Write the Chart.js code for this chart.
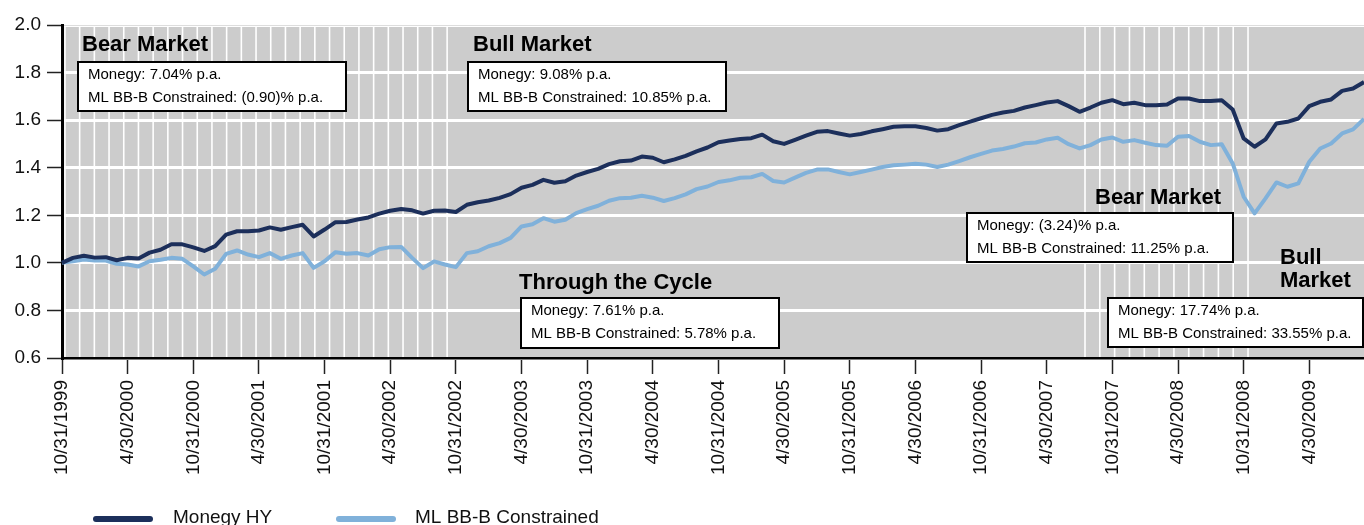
<!DOCTYPE html>
<html>
<head>
<meta charset="utf-8">
<script src="https://cdn.jsdelivr.net/npm/chart.js"></script>
<style>
body { margin: 0; background: #fff; }
#wrap { width: 1364px; height: 525px; }
</style>
</head>
<body>
<div id="wrap"><canvas id="myChart" width="1364" height="525"></canvas></div>
<script>
// growth of 1.0, month ends 10/31/1999 .. 9/30/2009
var monegyHY = [
  1.00, 1.021, 1.03, 1.022, 1.024, 1.011, 1.021, 1.018, 1.043, 1.055,
  1.078, 1.078, 1.065, 1.05, 1.07, 1.119, 1.133, 1.133, 1.136, 1.149,
  1.139, 1.15, 1.16, 1.111, 1.14, 1.171, 1.172, 1.182, 1.191, 1.207,
  1.219, 1.226, 1.221, 1.207, 1.219, 1.22, 1.214, 1.244, 1.255, 1.262,
  1.273, 1.289, 1.316, 1.328, 1.349, 1.337, 1.343, 1.367, 1.382, 1.395,
  1.415, 1.427, 1.43, 1.447, 1.442, 1.423, 1.435, 1.45, 1.469, 1.485,
  1.507, 1.514, 1.521, 1.524, 1.539, 1.511, 1.50, 1.517, 1.535, 1.551,
  1.554, 1.544, 1.535, 1.542, 1.553, 1.562, 1.572, 1.574, 1.574, 1.567,
  1.556, 1.562, 1.579, 1.594, 1.608, 1.622, 1.632, 1.639, 1.653, 1.663,
  1.674, 1.68, 1.659, 1.635, 1.653, 1.673, 1.684, 1.667, 1.673, 1.663,
  1.663, 1.666, 1.691, 1.691, 1.68, 1.68, 1.684, 1.645, 1.523, 1.488,
  1.519, 1.586, 1.593, 1.607, 1.659, 1.677, 1.687, 1.723, 1.733, 1.76
];
var mlBBB = [
  1.00, 1.007, 1.014, 1.01, 1.01, 0.996, 0.993, 0.985, 1.007, 1.013,
  1.021, 1.017, 0.985, 0.951, 0.975, 1.038, 1.052, 1.035, 1.024, 1.041,
  1.017, 1.031, 1.041, 0.979, 1.007, 1.045, 1.038, 1.041, 1.031, 1.057,
  1.066, 1.067, 1.021, 0.978, 1.006, 0.993, 0.982, 1.041, 1.049, 1.07,
  1.083, 1.105, 1.153, 1.162, 1.188, 1.173, 1.181, 1.209, 1.226, 1.24,
  1.261, 1.272, 1.274, 1.282, 1.274, 1.26, 1.272, 1.288, 1.31, 1.321,
  1.34, 1.347, 1.358, 1.36, 1.374, 1.344, 1.338, 1.358, 1.378, 1.392,
  1.393, 1.382, 1.372, 1.382, 1.392, 1.403, 1.41, 1.413, 1.417, 1.413,
  1.403, 1.413, 1.428, 1.444, 1.458, 1.472, 1.479, 1.489, 1.503, 1.506,
  1.519, 1.526, 1.499, 1.481, 1.495, 1.519, 1.527, 1.509, 1.516, 1.505,
  1.495, 1.492, 1.53, 1.533, 1.509, 1.495, 1.499, 1.418, 1.278, 1.208,
  1.271, 1.338, 1.32, 1.334, 1.425, 1.481, 1.502, 1.544, 1.561, 1.605
];
var seriesNames = ['Monegy HY', 'ML BB-B Constrained'];
var yTicks = [0.6, 0.8, 1.0, 1.2, 1.4, 1.6, 1.8, 2.0];

// shaded (hatched) bear market spans, in months from start
var bearSpans = [[0.27, 35.2], [93.5, 108.4]];

// period annotations
var periodTitles = [['Bear Market'], ['Bull Market'], ['Through the Cycle'], ['Bear Market'], ['Bull', 'Market']];
var monegyReturns = ['7.04%', '9.08%', '7.61%', '(3.24)%', '17.74%'];
var mlReturns = ['(0.90)%', '10.85%', '5.78%', '11.25%', '33.55%'];

// month end labels
var months = [];
for (var i = 0; i < monegyHY.length; i++) {
  var m = new Date(1999, 10 + i, 0);
  months.push((m.getMonth() + 1) + '/' + m.getDate() + '/' + m.getFullYear());
}

var darkBlue = '#1c2f5b';
var lightBlue = '#80b1da';
var FONT = "'Liberation Sans', Arial, sans-serif";
Chart.defaults.font.family = FONT;
Chart.defaults.color = '#111';

// where the boxes sit (pixels)
var boxPos = [
  {tx: 82, ty: [45], bx: 78, by: 62, bw: 268, bh: 49},
  {tx: 473, ty: [45], bx: 468, by: 62, bw: 258, bh: 49},
  {tx: 519, ty: [283], bx: 521, by: 298, bw: 258, bh: 50},
  {tx: 1095, ty: [198], bx: 967, by: 213, bw: 266, bh: 49},
  {tx: 1280, ty: [258, 281], bx: 1108, by: 298, bw: 255, bh: 49}
];

var backdrop = {
  id: 'backdrop',
  beforeDraw: function(chart) {
    var a = chart.chartArea, ctx = chart.ctx, x = chart.scales.x;
    ctx.save();
    ctx.fillStyle = '#cccccc';
    ctx.fillRect(a.left, a.top + 2, a.right - a.left, a.bottom - a.top - 2);
    ctx.strokeStyle = '#ffffff';
    ctx.lineWidth = 1.6;
    bearSpans.forEach(function(s) {
      var x0 = x.getPixelForValue(s[0]), x1 = x.getPixelForValue(s[1]);
      var n = Math.round((x1 - x0) / 14.7);
      for (var k = 0; k <= n; k++) {
        var px = x0 + (x1 - x0) * k / n;
        ctx.beginPath();
        ctx.moveTo(px, a.top + 2);
        ctx.lineTo(px, a.bottom);
        ctx.stroke();
      }
    });
    ctx.restore();
  }
};

var notes = {
  id: 'notes',
  afterDraw: function(chart) {
    var ctx = chart.ctx;
    ctx.save();
    boxPos.forEach(function(p, i) {
      ctx.fillStyle = '#000';
      ctx.font = 'bold 22px ' + FONT;
      ctx.textAlign = 'left';
      ctx.textBaseline = 'middle';
      periodTitles[i].forEach(function(t, j) { ctx.fillText(t, p.tx, p.ty[j]); });
      ctx.fillStyle = '#fff';
      ctx.fillRect(p.bx, p.by, p.bw, p.bh);
      ctx.strokeStyle = '#000';
      ctx.lineWidth = 2;
      ctx.strokeRect(p.bx, p.by, p.bw, p.bh);
      ctx.fillStyle = '#000';
      ctx.font = '15px ' + FONT;
      ctx.fillText('Monegy: ' + monegyReturns[i] + ' p.a.', p.bx + 10, p.by + 13);
      ctx.fillText('ML BB-B Constrained: ' + mlReturns[i] + ' p.a.', p.bx + 10, p.by + 36);
    });
    // legend
    var legX = [[96, 150, 173], [339, 393, 415]];
    var cols = [darkBlue, lightBlue];
    ctx.lineCap = 'round';
    ctx.font = '19px ' + FONT;
    seriesNames.forEach(function(n, i) {
      ctx.strokeStyle = cols[i];
      ctx.lineWidth = 6;
      ctx.beginPath();
      ctx.moveTo(legX[i][0], 519);
      ctx.lineTo(legX[i][1], 519);
      ctx.stroke();
      ctx.fillStyle = '#111';
      ctx.fillText(n, legX[i][2], 518);
    });
    ctx.restore();
  }
};

var ctx = document.getElementById('myChart').getContext('2d');
var chart = new Chart(ctx, {
  type: 'line',
  data: {
    labels: months,
    datasets: [
      { label: seriesNames[0], data: monegyHY, borderColor: darkBlue, borderWidth: 4, pointRadius: 0, tension: 0, borderJoinStyle: 'round' },
      { label: seriesNames[1], data: mlBBB, borderColor: lightBlue, borderWidth: 4, pointRadius: 0, tension: 0, borderJoinStyle: 'round' }
    ]
  },
  options: {
    responsive: false,
    animation: false,
    layout: { padding: { top: 25, right: 0, left: 0, bottom: 0 } },
    plugins: { legend: { display: false }, tooltip: { enabled: false } },
    scales: {
      x: {
        offset: false,
        border: { display: true, color: '#000', width: 2.5 },
        grid: { drawOnChartArea: false, tickLength: 16, tickColor: '#222', tickWidth: 1.5 },
        ticks: {
          autoSkip: false, maxRotation: 90, minRotation: 90, padding: 6,
          font: { size: 19 },
          callback: function(v, i) { return i % 6 === 0 ? months[i] : null; }
        },
        afterFit: function(s) { s.height = 167; s.paddingLeft = 0; s.paddingRight = 0; }
      },
      y: {
        min: 0.6, max: 2.0,
        border: { display: true, color: '#000', width: 3 },
        grid: {
          color: function(c) { return c.tick && c.tick.value === 2.0 ? '#dddddd' : '#ffffff'; },
          lineWidth: function(c) { return c.tick && c.tick.value === 2.0 ? 1 : 3; },
          tickLength: 15, tickColor: '#222', tickWidth: 1.5
        },
        afterBuildTicks: function(s) { s.ticks = yTicks.map(function(v) { return { value: v }; }); },
        ticks: {
          padding: 6, font: { size: 19 },
          callback: function(v) { return v.toFixed(1); }
        },
        afterFit: function(s) { s.width = 62; }
      }
    }
  },
  plugins: [backdrop, notes]
});
</script>
</body>
</html>
